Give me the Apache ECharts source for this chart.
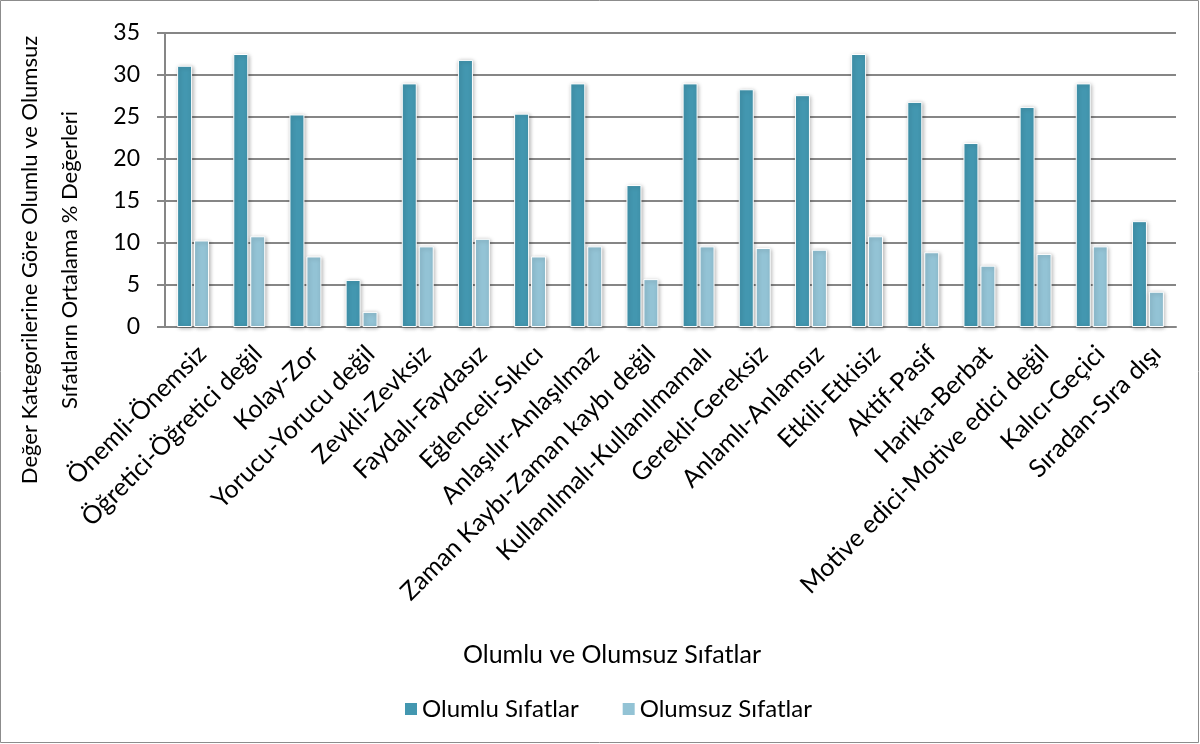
<!DOCTYPE html>
<html>
  <head>
    <meta charset="UTF-8" />
    <title></title>
    <style type="text/css">
      * {
        margin: 0;
        padding: 0;
      }
      #main {
        width: 1200px;
        height: 744px;
        background-color: #fff;
      }
    </style>
  </head>
  <body>
    <div id="main"></div>
  </body>
  <script src="https://cdn.jsdelivr.net/npm/echarts@6/dist/echarts.min.js"></script>
  <script type="text/javascript">
    // kategoriler
    var categories = [
      'Önemli-Önemsiz', 'Öğretici-Öğretici değil', 'Kolay-Zor', 'Yorucu-Yorucu değil',
      'Zevkli-Zevksiz', 'Faydalı-Faydasız', 'Eğlenceli-Sıkıcı', 'Anlaşılır-Anlaşılmaz',
      'Zaman Kaybı-Zaman kaybı değil', 'Kullanılmalı-Kullanılmamalı', 'Gerekli-Gereksiz',
      'Anlamlı-Anlamsız', 'Etkili-Etkisiz', 'Aktif-Pasif', 'Harika-Berbat',
      'Motive edici-Motive edici değil', 'Kalıcı-Geçici', 'Sıradan-Sıra dışı'
    ]
    var seriesNames = ['Olumlu Sıfatlar', 'Olumsuz Sıfatlar']
    var olumlu = [31.1, 32.5, 25.3, 5.6, 29.0, 31.8, 25.4, 29.0, 16.9, 29.0, 28.3, 27.6, 32.5, 26.8, 21.9, 26.2, 29.0, 12.6]
    var olumsuz = [10.3, 10.8, 8.4, 1.8, 9.6, 10.5, 8.4, 9.6, 5.7, 9.6, 9.4, 9.2, 10.8, 8.9, 7.3, 8.7, 9.6, 4.2]
    var yTicks = [0, 5, 10, 15, 20, 25, 30, 35]

    var font = 'Lato'
    var colors = ['#4397B0', '#93C3D5']
    var values = [olumlu, olumsuz]

    var series = []
    values.forEach(function (v, i) {
      series.push({
        name: seriesNames[i],
        type: 'bar',
        data: v,
        barWidth: 15,
        barGap: '13%',
        itemStyle: {
          color: colors[i],
          borderColor: '#fff',
          borderWidth: 1,
          shadowColor: 'rgba(0,0,0,0.3)',
          shadowBlur: 4,
          shadowOffsetX: 1,
          shadowOffsetY: 1
        }
      })
    })

    var myCharts = echarts.init(document.getElementById('main'))
    var option = {
      animation: false,
      color: colors,
      textStyle: { fontFamily: font },
      grid: {
        left: 165,
        right: 24,
        top: 33,
        bottom: 417,
        containLabel: false
      },
      legend: {
        top: 692,
        left: 398,
        itemWidth: 14,
        itemHeight: 14,
        itemGap: 42,
        icon: 'rect',
        data: seriesNames,
        textStyle: { color: '#000', fontSize: 24, fontFamily: font, padding: [0, 0, 0, -1] }
      },
      xAxis: {
        type: 'category',
        data: categories,
        axisLine: { lineStyle: { color: '#868686', width: 2 } },
        axisTick: { show: false },
        axisLabel: {
          rotate: 45,
          color: '#000',
          fontSize: 25,
          margin: 14,
          interval: 0,
          verticalAlign: 'top',
          fontFamily: font
        }
      },
      yAxis: {
        type: 'value',
        min: yTicks[0],
        max: yTicks[yTicks.length - 1],
        interval: 5,
        axisLine: { show: true, lineStyle: { color: '#868686', width: 2 } },
        axisTick: { show: true, length: 8, lineStyle: { color: '#868686', width: 2 } },
        splitLine: { lineStyle: { color: '#868686', width: 2 } },
        axisLabel: { color: '#000', fontSize: 23, margin: 25, fontFamily: font }
      },
      graphic: [
        {
          type: 'rect',
          shape: { x: 0.5, y: 0.5, width: 1198, height: 742 },
          style: { fill: 'none', stroke: '#8c8c8c', lineWidth: 1 },
          silent: true
        },
        {
          type: 'text',
          x: 50,
          y: 260,
          rotation: Math.PI / 2,
          style: {
            text: 'Değer Kategorilerine Göre Olumlu ve Olumsuz\nSıfatların Ortalama % Değerleri',
            fill: '#000',
            font: '22px ' + font,
            align: 'center',
            verticalAlign: 'middle',
            lineHeight: 40
          }
        },
        {
          type: 'text',
          x: 612,
          y: 655,
          style: {
            text: 'Olumlu ve Olumsuz Sıfatlar',
            fill: '#000',
            font: '25px ' + font,
            align: 'center',
            verticalAlign: 'middle'
          }
        }
      ],
      series: series
    }
    myCharts.setOption(option)
    window.addEventListener('resize', function () {
      myCharts.resize()
    })
  </script>
</html>
